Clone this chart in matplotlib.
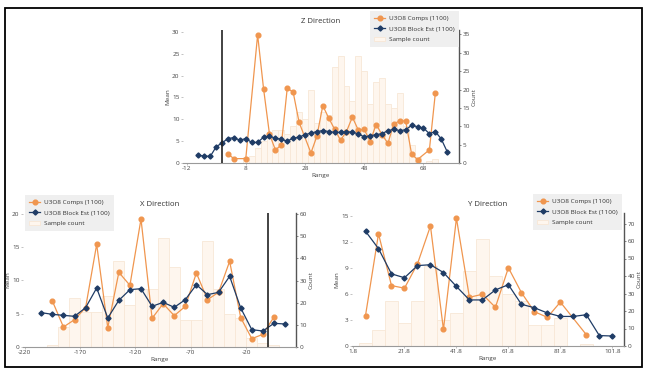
import matplotlib

matplotlib.use("Agg")
import matplotlib.pyplot as plt
from matplotlib.patches import Rectangle

plt.rcParams["font.family"] = ["Open Sans", "DejaVu Sans"]

ORANGE = "#f0964f"
NAVY = "#1f3c66"
BAR_FACE = "#fef6ee"
BAR_EDGE = "#f8e7d6"
TEXT = "#444444"

# ---- Z direction ----
z_comp_x = [2, 4, 8, 12, 14, 16, 18, 20, 22, 24, 26, 30, 32, 34, 36, 38, 40, 42,
            44, 46, 48, 50, 52, 54, 56, 58, 60, 62, 64, 66, 70, 72]
z_comp = [2.0, 1.0, 1.0, 29.3, 17.0, 6.6, 3.0, 4.1, 17.1, 16.2, 9.3, 2.3, 6.1, 13.1,
          10.3, 7.7, 5.2, 7.2, 10.5, 7.5, 7.7, 4.9, 8.8, 6.5, 4.5, 9.0, 9.6, 9.6,
          2.0, 0.8, 3.0, 15.9]
z_est_x = [-8, -6, -4, -2, 0, 2, 4, 6, 8, 10, 12, 14, 16, 18, 20, 22, 24, 26, 28, 30,
           32, 34, 36, 38, 40, 42, 44, 46, 48, 50, 52, 54, 56, 58, 60, 62, 64, 66, 68,
           70, 72, 74, 76]
z_est = [1.75, 1.6, 1.5, 3.7, 4.6, 5.6, 5.8, 5.2, 5.6, 4.7, 4.7, 5.9, 6.1, 5.7, 5.4,
         5.0, 5.7, 5.9, 6.5, 6.8, 7.2, 7.4, 7.2, 7.0, 7.0, 7.1, 7.1, 6.6, 6.0, 6.2,
         6.5, 6.7, 7.4, 7.7, 7.4, 7.6, 8.6, 8.3, 8.0, 6.7, 7.2, 5.5, 2.6]
z_bin_x = [8, 10, 12, 14, 16, 18, 20, 22, 24, 26, 28, 30, 32, 34, 36, 38, 40, 42, 44,
           46, 48, 50, 52, 54, 56, 58, 60, 62, 64, 66, 68, 70, 72]
z_count = [1.5, 2, 4, 6, 8, 9, 9, 8, 10, 14, 12, 20, 11, 14, 13, 26, 29, 21, 17, 29,
           25, 16, 22, 23, 16, 15, 19, 10, 5, 1.5, 0, 0.5, 1]

# ---- X direction ----
x_comp_x = [-195, -185, -175, -165, -155, -145, -135, -125, -115, -105, -95, -85,
            -75, -65, -55, -45, -35, -25, -15, -5, 5]
x_comp = [6.9, 3.0, 4.1, 5.9, 15.4, 2.9, 11.2, 9.25, 19.2, 4.3, 6.5, 4.7, 6.1, 11.1,
          7.1, 8.2, 12.85, 4.4, 1.25, 1.9, 4.5]
x_est_x = [-205, -195, -185, -175, -165, -155, -145, -135, -125, -115, -105, -95,
           -85, -75, -65, -55, -45, -35, -25, -15, -5, 5, 15]
x_est = [5.15, 4.9, 4.75, 4.6, 5.9, 8.85, 4.35, 7.0, 8.6, 8.75, 6.1, 6.7, 5.95, 7.1,
         9.35, 7.85, 8.2, 10.6, 5.85, 2.6, 2.4, 3.55, 3.45]
x_bin_x = x_comp_x
x_count = [1, 9, 22, 16, 16, 23, 39, 19, 26, 26, 49, 36, 12, 12, 48, 26, 15, 13, 4, 2, 1]

# ---- Y direction ----
y_comp_x = [6.8, 11.8, 16.8, 21.8, 26.8, 31.8, 36.8, 41.8, 46.8, 51.8, 56.8, 61.8,
            66.8, 71.8, 76.8, 81.8, 91.8]
y_comp = [3.5, 12.9, 6.95, 6.65, 9.45, 13.8, 1.9, 14.7, 5.6, 5.95, 4.45, 9.0, 6.15,
          3.95, 3.3, 5.05, 1.3]
y_est_x = [6.8, 11.8, 16.8, 21.8, 26.8, 31.8, 36.8, 41.8, 46.8, 51.8, 56.8, 61.8,
           66.8, 71.8, 76.8, 81.8, 86.8, 91.8, 96.8, 101.8]
y_est = [13.2, 11.2, 8.3, 7.85, 9.25, 9.35, 8.45, 6.85, 5.3, 5.3, 6.45, 7.05, 4.8,
         4.4, 3.8, 3.4, 3.4, 3.6, 1.2, 1.15]
y_bin_x = [6.8, 11.8, 16.8, 21.8, 26.8, 31.8, 36.8, 41.8, 46.8, 51.8, 56.8, 61.8,
           66.8, 71.8, 76.8, 81.8, 86.8, 91.8]
y_count = [2, 9, 26, 13, 26, 46, 15, 19, 43, 61, 40, 30, 26, 12, 12, 16, 0, 1]

W, H = 647, 374
TICK_FS = 4.6
LABEL_FS = 4.6
LEGEND_FS = 4.6
TITLE_FS = 5.6


def fig_rect(x0, y0, x1, y1):
    """Pixel box (top-left origin) -> figure fraction rect."""
    return [x0 / W, 1 - y1 / H, (x1 - x0) / W, (y1 - y0) / H]


def draw_panel(fig, box, title, comp_x, comp, est_x, est, bin_x, counts, bin_w,
               xlim, mean_top, count_top, xticks, xticklabels, mean_ticks,
               count_ticks, legend_xy, vline=None):
    ax = fig.add_axes(fig_rect(*box))
    ax2 = ax.twinx()
    ax.set_zorder(ax2.get_zorder() + 1)
    ax.patch.set_visible(False)

    bars = ax2.bar(bin_x, counts, width=bin_w, color=BAR_FACE, edgecolor=BAR_EDGE,
                   linewidth=0.6, label="Sample count")
    l1, = ax.plot(comp_x, comp, color=ORANGE, lw=0.9, marker="o", ms=3.4,
                  label="U3O8 Comps (1100)")
    l2, = ax.plot(est_x, est, color=NAVY, lw=0.9, marker="D", ms=2.6,
                  label="U3O8 Block Est (1100)")
    if vline is not None:
        ax.axvline(vline, color="#222222", lw=1.2, zorder=5)

    ax.set_xlim(*xlim)
    ax.set_ylim(0, mean_top)
    ax2.set_ylim(0, count_top)
    ax.set_xticks(xticks)
    ax.set_xticklabels(xticklabels)
    ax.set_yticks(mean_ticks)
    ax2.set_yticks(count_ticks)

    for s in ["top", "left", "right"]:
        ax.spines[s].set_visible(False)
    for s in ["top", "left", "bottom"]:
        ax2.spines[s].set_visible(False)
    ax.spines["bottom"].set_color("#9a9a9a")
    ax.spines["bottom"].set_linewidth(0.8)
    ax2.spines["right"].set_color("#555555")
    ax2.spines["right"].set_linewidth(1.0)

    ax.tick_params(axis="both", labelsize=TICK_FS, colors="#aaaaaa", labelcolor=TEXT,
                   length=1.5, width=0.5, pad=1)
    ax2.tick_params(axis="y", labelsize=TICK_FS, colors="#555555", labelcolor=TEXT,
                    length=1.5, width=0.5, pad=1)

    ax.set_title(title, fontsize=TITLE_FS, color="#333333", pad=5)
    ax.set_xlabel("Range", fontsize=LABEL_FS, color=TEXT, labelpad=1)
    ax.set_ylabel("Mean", fontsize=LABEL_FS, color=TEXT, labelpad=1.5)
    ax2.set_ylabel("Count", fontsize=LABEL_FS, color=TEXT, labelpad=1.5)

    leg = fig.legend([l1, l2, bars], [l1.get_label(), l2.get_label(), "Sample count"],
                     loc="upper left", bbox_to_anchor=(legend_xy[0] / W, 1 - legend_xy[1] / H),
                     fontsize=LEGEND_FS, frameon=True, fancybox=False, framealpha=1,
                     facecolor="#efefef", edgecolor="none", handlelength=1.6,
                     handletextpad=0.6, labelspacing=0.8, borderpad=0.7,
                     borderaxespad=0)
    for t in leg.get_texts():
        t.set_color("#333333")
    return ax


fig = plt.figure(figsize=(W / 100, H / 100), dpi=100)

draw_panel(fig, (183, 30, 459, 163), "Z Direction", z_comp_x, z_comp, z_est_x, z_est,
           z_bin_x, z_count, 2, (-13.2, 80), 30.4, 36.2,
           [-12, 8, 28, 48, 68], ["-12", "8", "28", "48", "68"],
           [0, 5, 10, 15, 20, 25, 30], [0, 5, 10, 15, 20, 25, 30, 35],
           (370, 11), vline=0)

draw_panel(fig, (23, 213, 296, 347), "X Direction", x_comp_x, x_comp, x_est_x, x_est,
           x_bin_x, x_count, 10, (-221.5, 24.9), 20.1, 60.5,
           [-220, -170, -120, -70, -20], ["-220", "-170", "-120", "-70", "-20"],
           [0, 5, 10, 15, 20], [0, 10, 20, 30, 40, 50, 60],
           (25, 195), vline=0)

draw_panel(fig, (352, 213, 624, 346), "Y Direction", y_comp_x, y_comp, y_est_x, y_est,
           y_bin_x, y_count, 5, (1.6, 106.3), 15.3, 76,
           [1.8, 21.8, 41.8, 61.8, 81.8, 101.8],
           ["1.8", "21.8", "41.8", "61.8", "81.8", "101.8"],
           [0, 3, 6, 9, 12, 15], [0, 10, 20, 30, 40, 50, 60, 70],
           (533, 194))

# outer frame
fig.add_artist(Rectangle((5 / W, 1 - 367 / H), 637 / W, 359 / H,
                         transform=fig.transFigure, fill=False,
                         edgecolor="black", linewidth=1.3))

fig.savefig("out.png", dpi=100, facecolor="white")
